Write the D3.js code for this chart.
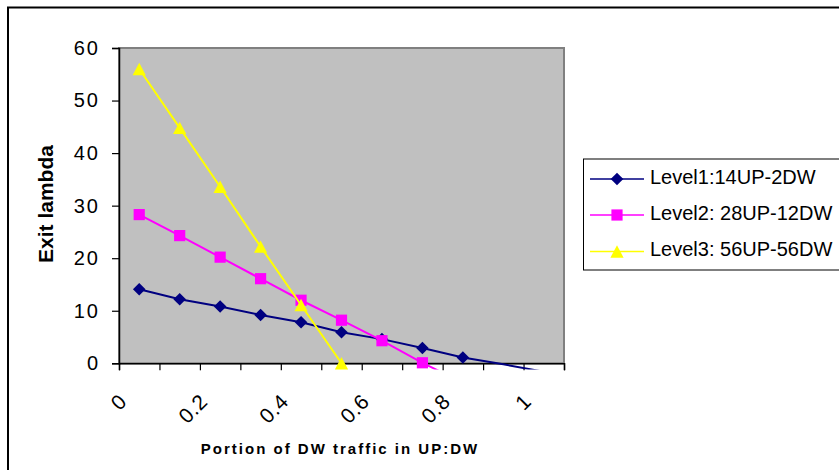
<!DOCTYPE html>
<html lang="en">
<head>
<meta charset="utf-8">
<title>Exit lambda</title>
<script src="https://cdn.jsdelivr.net/npm/d3@7"></script>
<style>
  body { margin: 0; background: #fff; }
  text { font-family: "Liberation Sans", Arial, sans-serif; fill: #000; }
</style>
</head>
<body>
<script>

// data
var portions = [0.05, 0.15, 0.25, 0.35, 0.45, 0.55, 0.65, 0.75, 0.85, 0.95, 1.05];
var level1 = [14.1, 12.2, 10.8, 9.2, 7.8, 5.9, 4.6, 2.9, 1.1, -0.2, -1.6];
var level2 = [28.3, 24.3, 20.2, 16.1, 12.0, 8.2, 4.3, 0.1, -3.7];
var level3 = [56.0, 44.8, 33.6, 22.2, 11.1, 0.0];
var seriesNames = ["Level1:14UP-2DW", "Level2: 28UP-12DW", "Level3: 56UP-56DW"];
var xTicks = [0, 0.1, 0.2, 0.3, 0.4, 0.5, 0.6, 0.7, 0.8, 0.9, 1, 1.1];
var xLabels = [0, 0.2, 0.4, 0.6, 0.8, 1];
var yTicks = [0, 10, 20, 30, 40, 50, 60];

var width = 839;
var height = 470;

var svg = d3.select("body").append("svg")
            .attr("width", width)
            .attr("height", height);

// chart border (right and bottom fall outside the picture)
svg.append("rect")
   .attr("x", 8).attr("y", 7.5)
   .attr("width", 900).attr("height", 500)
   .attr("fill", "#fff")
   .attr("stroke", "#000")
   .attr("stroke-width", 2);

var plot = { left: 119, top: 48, right: 564, bottom: 363.3 };

var x = d3.scaleLinear().domain([0, 1.1]).range([plot.left, plot.right]);
var y = d3.scaleLinear().domain([0, 60]).range([plot.bottom, plot.top]);

// plot area
svg.append("rect")
   .attr("x", plot.left).attr("y", plot.top)
   .attr("width", plot.right - plot.left)
   .attr("height", plot.bottom - plot.top)
   .attr("fill", "#c0c0c0")
   .attr("stroke", "#808080")
   .attr("stroke-width", 2);

// y axis
var yAxis = svg.append("g")
               .attr("transform", "translate(" + plot.left + ",0)")
               .call(d3.axisLeft(y).tickValues(yTicks).tickSize(7).tickPadding(12));
yAxis.select(".domain").attr("stroke", "#000").attr("stroke-width", 1.5);
yAxis.selectAll(".tick line").attr("stroke", "#000").attr("stroke-width", 1.2);
yAxis.selectAll(".tick text")
     .attr("font-size", 20)
     .attr("letter-spacing", 2)
     .attr("font-family", "Liberation Sans, Arial, sans-serif")
     .attr("fill", "#000");

// x axis
var xAxis = svg.append("g")
               .attr("transform", "translate(0," + plot.bottom + ")")
               .call(d3.axisBottom(x).tickValues(xTicks).tickSize(7).tickFormat(""));
xAxis.select(".domain").attr("stroke", "#000").attr("stroke-width", 1.5);
xAxis.selectAll(".tick line").attr("stroke", "#000").attr("stroke-width", 1.2);

svg.append("g").selectAll("text")
   .data(xLabels)
   .enter()
   .append("text")
   .attr("transform", function(d) {
     return "translate(" + (x(d) + 9) + ",403) rotate(-45)";
   })
   .attr("text-anchor", "end")
   .attr("font-size", 21)
   .attr("letter-spacing", 0.5)
   .text(function(d) { return d; });

// axis titles
svg.append("text")
   .attr("transform", "translate(53,204) rotate(-90)")
   .attr("text-anchor", "middle")
   .attr("font-size", 21)
   .attr("font-weight", "bold")
   .text("Exit lambda");

svg.append("text")
   .attr("x", 340).attr("y", 454)
   .attr("text-anchor", "middle")
   .attr("font-size", 15)
   .attr("font-weight", "bold")
   .attr("letter-spacing", 2)
   .text("Portion of DW traffic in UP:DW");

// series
var series = [
  { name: seriesNames[0], values: level1, color: "#000080", marker: "diamond" },
  { name: seriesNames[1], values: level2, color: "#ff00ff", marker: "square" },
  { name: seriesNames[2], values: level3, color: "#ffff00", marker: "triangle" }
];

function markerPath(type) {
  if (type == "diamond") return "M0,-6.3L6.3,0L0,6.3L-6.3,0Z";
  if (type == "square") return "M-5.6,-5.6H5.6V5.6H-5.6Z";
  return "M0,-6.2L6.6,6.2H-6.6Z";
}

svg.append("clipPath").attr("id", "clip")
   .append("rect")
   .attr("x", plot.left).attr("y", plot.top)
   .attr("width", plot.right - plot.left)
   .attr("height", 369.5 - plot.top);

var line = d3.line()
             .x(function(d) { return x(d[0]); })
             .y(function(d) { return y(d[1]); });

series.forEach(function(s) {
  var pts = s.values.map(function(v, i) { return [portions[i], v]; });

  svg.append("path")
     .attr("d", line(pts))
     .attr("fill", "none")
     .attr("stroke", s.color)
     .attr("stroke-width", 2)
     .attr("clip-path", "url(#clip)");

  // markers only where the value is inside the axis range
  svg.append("g").selectAll("path")
     .data(pts.filter(function(p) { return p[1] >= 0; }))
     .enter()
     .append("path")
     .attr("d", markerPath(s.marker))
     .attr("transform", function(p) { return "translate(" + x(p[0]) + "," + y(p[1]) + ")"; })
     .attr("fill", s.color);
});

// legend
var legend = svg.append("g");
legend.append("rect")
      .attr("x", 583.5).attr("y", 159)
      .attr("width", 300).attr("height", 111)
      .attr("fill", "#fff")
      .attr("stroke", "#000")
      .attr("stroke-width", 1);

var rows = [179, 215, 251.5];
series.forEach(function(s, i) {
  legend.append("line")
        .attr("x1", 590).attr("x2", 644)
        .attr("y1", rows[i]).attr("y2", rows[i])
        .attr("stroke", s.color)
        .attr("stroke-width", 1.5);
  legend.append("path")
        .attr("d", markerPath(s.marker))
        .attr("transform", "translate(617," + rows[i] + ")")
        .attr("fill", s.color);
  legend.append("text")
        .attr("x", 650).attr("y", rows[i] + 4.5)
        .attr("font-size", 20)
        .text(s.name);
});

</script>
</body>
</html>
